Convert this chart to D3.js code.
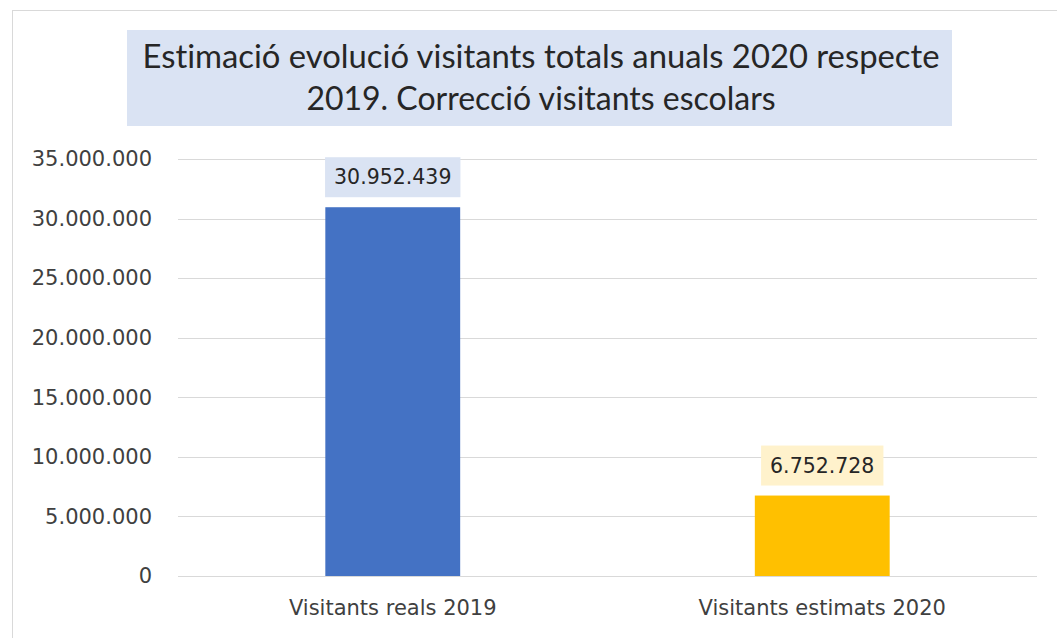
<!DOCTYPE html>
<html><head><meta charset="utf-8">
<script src="https://cdn.jsdelivr.net/npm/d3@7"></script>
<style>
body{margin:0;background:#fff;}
svg{display:block;}
text{font-variant-ligatures:none;font-feature-settings:"liga" 0;}
</style></head>
<body>
<svg id="chart" width="1057" height="638"></svg>
<script>
const categories = ["Visitants reals 2019", "Visitants estimats 2020"];
const values = [30952439, 6752728];
const barColors = ["#4472c4", "#ffc000"];
const labelFills = ["#dae3f3", "#fff2cc"];
const yTicks = [0, 5000000, 10000000, 15000000, 20000000, 25000000, 30000000, 35000000];
const titleLines = ["Estimació evolució visitants totals anuals 2020 respecte", "2019. Correcció visitants escolars"];

const W = 1057, H = 638;
const m = {left: 178, right: 20, top: 159, bottom: 62};
const svg = d3.select("#chart");
const loc = d3.formatLocale({decimal: ",", thousands: ".", grouping: [3], currency: ["", "€"]});
const fmt = loc.format(",d");

// outer frame
svg.append("rect").attr("x", 12.5).attr("y", 10.5).attr("width", W + 20).attr("height", H + 20)
  .attr("fill", "none").attr("stroke", "#d9d9d9").attr("stroke-width", 1);

// title box
svg.append("rect").attr("x", 127).attr("y", 30).attr("width", 825).attr("height", 96).attr("fill", "#dae3f3");
svg.append("g").selectAll("text").data(titleLines).join("text")
  .attr("x", 541).attr("y", (d, i) => 68 + i * 42)
  .attr("text-anchor", "middle")
  .attr("font-family", "Lato, 'Open Sans', sans-serif").attr("font-size", 32)
  .attr("fill", "#262626").text(d => d)
  .each(function(d, i) { if (i === 0) d3.select(this).attr("textLength", 797).attr("lengthAdjust", "spacingAndGlyphs"); });

const x = d3.scaleBand().domain(categories).range([m.left, W - m.right]).paddingInner(0.686).paddingOuter(0.343);
const y = d3.scaleLinear().domain([0, 35000000]).range([576, 159]);

// gridlines
svg.append("g").selectAll("line").data(yTicks).join("line")
  .attr("x1", m.left).attr("x2", W - m.right)
  .attr("y1", d => Math.round(y(d)) + 0.5).attr("y2", d => Math.round(y(d)) + 0.5)
  .attr("stroke", "#d9d9d9").attr("stroke-width", 1.2);

// y axis labels
const yAxis = d3.axisLeft(y).tickValues(yTicks).tickFormat(fmt).tickSize(0).tickPadding(26);
const gy = svg.append("g").attr("transform", `translate(${m.left},0)`).call(yAxis);
gy.select(".domain").remove();
gy.selectAll("text").attr("font-family", "'DejaVu Sans', sans-serif").attr("font-size", 21).attr("fill", "#404040");

// bars
svg.append("g").selectAll("rect").data(values).join("rect")
  .attr("x", (d, i) => x(categories[i])).attr("width", x.bandwidth())
  .attr("y", d => y(d)).attr("height", d => y(0) - y(d))
  .attr("fill", (d, i) => barColors[i]);

// data labels
const lg = svg.append("g");
values.forEach((v, i) => {
  const cx = x(categories[i]) + x.bandwidth() / 2;
  const ty = y(v) - 30;
  const g = lg.append("g");
  const t = g.append("text").attr("x", cx).attr("y", ty).attr("text-anchor", "middle")
    .attr("dominant-baseline", "central")
    .attr("font-family", "'DejaVu Sans', sans-serif").attr("font-size", 20.5).attr("fill", "#262626")
    .text(fmt(v));
  const bb = t.node().getBBox();
  g.insert("rect", "text").attr("x", bb.x - 9).attr("y", ty - 20).attr("width", bb.width + 18).attr("height", 40)
    .attr("fill", labelFills[i]);
});

// x axis labels
const xAxis = d3.axisBottom(x).tickSize(0).tickPadding(24);
const gx = svg.append("g").attr("transform", `translate(0,${y(0)})`).call(xAxis);
gx.select(".domain").remove();
gx.selectAll("text").attr("font-family", "'DejaVu Sans', sans-serif").attr("font-size", 21).attr("fill", "#404040");
</script>
</body></html>
